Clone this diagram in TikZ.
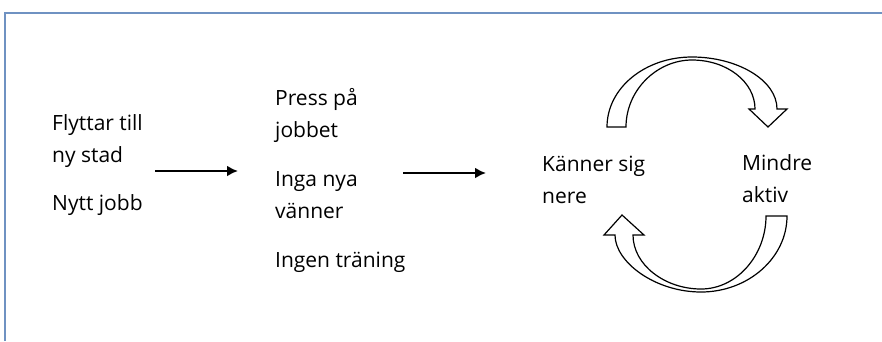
\documentclass[tikz,border=0pt]{standalone}
\usepackage{fontspec}
\setmainfont{Open Sans}
\usetikzlibrary{arrows.meta}
\definecolor{framecol}{HTML}{6F92C2}
\tikzset{
  txt/.style={anchor=base west,align=left,inner sep=0pt,font=\fontsize{21}{32}\selectfont},
  flow/.style={line width=2.6pt,-{Latex[length=11pt,width=11pt]}},
  cyc/.style={draw=black,line width=1.2pt,fill=white,line join=miter}
}
\begin{document}
\begin{tikzpicture}[x=1pt,y=-1pt]
\useasboundingbox (0,0) rectangle (882,341);
\draw[framecol,line width=2pt] (5,341) |- (882,13);
\node[txt] (move) at (52,162) {Flyttar till\\ny stad};
\node[txt] (job) at (52,210) {Nytt jobb};
\node[txt] (press) at (275,137) {Press på\\jobbet};
\node[txt] (friends) at (275,218) {Inga nya\\vänner};
\node[txt] (training) at (275,267) {Ingen träning};
\node[txt] (down) at (542,203) {Känner sig\\nere};
\node[txt] (less) at (742,202) {Mindre\\aktiv};
\coordinate (f1) at (155,171);
\coordinate (t1) at (238,171);
\coordinate (f2) at (403,173);
\coordinate (t2) at (486,173);
\draw[flow] (f1) -- (t1);
\draw[flow] (f2) -- (t2);
\draw[cyc] (607,127) .. controls (607,88) and (645,57) .. (692,57)
  .. controls (737,57) and (777,80) .. (777,109) -- (787,109) -- (768,127) -- (749,109) -- (755,109)
  .. controls (755,82) and (727,60) .. (692,60)
  .. controls (657,60) and (626,90) .. (626,127) -- cycle;
\draw[cyc] (787,216) .. controls (787,258) and (748,292) .. (701,292)
  .. controls (655,292) and (615,262) .. (615,235) -- (604,235) -- (622,215) -- (644,235) -- (633,235)
  .. controls (633,265) and (665,289) .. (701,289)
  .. controls (737,289) and (766,255) .. (766,216) -- cycle;
\end{tikzpicture}
\end{document}
